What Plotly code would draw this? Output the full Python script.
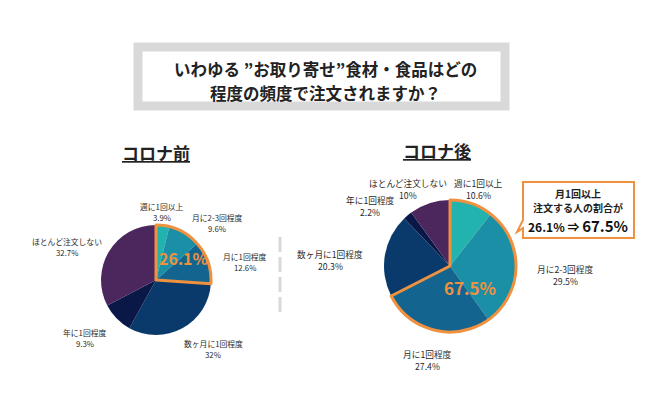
import plotly.graph_objects as go

# ---- data ----
categories = ["週に1回以上", "月に2-3回程度", "月に1回程度", "数ヶ月に1回程度", "年に1回程度", "ほとんど注文しない"]
before_values = [3.9, 9.6, 12.6, 32, 9.3, 32.7]
after_values = [10.6, 29.5, 27.4, 20.3, 2.2, 10]
before_label_text = ["3.9%", "9.6%", "12.6%", "32%", "9.3%", "32.7%"]
after_label_text = ["10.6%", "29.5%", "27.4%", "20.3%", "2.2%", "10%"]
monthly_before = "26.1%"
monthly_after = "67.5%"
n_monthly = 3  # first three categories = at least once a month

colors = ["#22B3AE", "#1A8FA6", "#136590", "#0A3A6B", "#0A1848", "#4B275E"]
ORANGE = "#F0913F"
FONT = "Noto Sans CJK JP"
W, H = 650, 412

fig = go.Figure()


def add_pie(vals, cx, cy, r):
    dom = dict(x=[(cx - r) / W, (cx + r) / W], y=[1 - (cy + r) / H, 1 - (cy - r) / H])
    fig.add_trace(go.Pie(values=vals, labels=categories, sort=False, direction="clockwise",
                         rotation=0, marker=dict(colors=colors, line=dict(width=0)),
                         textinfo="none", hoverinfo="skip", domain=dom, showlegend=False))
    grp = sum(vals[:n_monthly])
    fig.add_trace(go.Pie(values=[grp, sum(vals) - grp], labels=["a", "b"], sort=False,
                         direction="clockwise", rotation=0,
                         marker=dict(colors=["rgba(0,0,0,0)", "rgba(0,0,0,0)"],
                                     line=dict(color=[ORANGE, "rgba(0,0,0,0)"], width=[3, 0])),
                         textinfo="none", hoverinfo="skip", domain=dom, showlegend=False))


add_pie(before_values, 156, 280, 55)
add_pie(after_values, 450, 266, 66)

annotations = []


def txt(x, y, s, size, color="#333333", bold=False):
    annotations.append(dict(x=x, y=y, xref="x", yref="y", text=(f"<b>{s}</b>" if bold else s),
                            showarrow=False, xanchor="center", yanchor="middle",
                            font=dict(family=FONT, size=size, color=color)))


# title
txt(325, 69, "いわゆる ”お取り寄せ”食材・食品はどの", 16.5, "#222222", True)
txt(325, 93, "程度の頻度で注文されますか？", 16.5, "#222222", True)
# section headers
txt(156, 152, "<u>コロナ前</u>", 17, "#222222", True)
txt(437, 150, "<u>コロナ後</u>", 17, "#222222", True)

# left labels (name line, value line)
left_pos = [(162, 206), (217, 217), (245, 256), (213, 343), (85, 332), (67, 241)]
for (x, y), c, v in zip(left_pos, categories, before_label_text):
    txt(x, y, c, 7.8, "#2a2a2a")
    txt(x, y + 11, v, 7.8, "#2a2a2a")
# right labels
right_pos = [(478, 183), (565, 269), (427, 354), (330, 254), (370, 200), (408, 183)]
for (x, y), c, v in zip(right_pos, categories, after_label_text):
    txt(x, y, c, 8.7, "#2a2a2a")
    txt(x, y + 12, v, 8.7, "#2a2a2a")

# big percentages
txt(183, 258, monthly_before, 16, ORANGE, True)
txt(470, 287, monthly_after, 17, ORANGE, True)

# callout text
txt(578, 193, "月1回以上", 10, "#222222", True)
txt(578, 207, "注文する人の割合が", 10, "#222222", True)
annotations.append(dict(x=578, y=225, xref="x", yref="y", showarrow=False,
                        text=f"<b><span style='font-size:12px'>{monthly_before}</span> ⇒ "
                             f"<span style='font-size:15px'>{monthly_after}</span></b>",
                        font=dict(family=FONT, size=12, color="#111111")))

shapes = [
    dict(type="rect", xref="x", yref="y", x0=138, x1=505, y0=47, y1=106,
         line=dict(color="#D9D9D9", width=9), fillcolor="white", layer="below"),
    dict(type="line", xref="x", yref="y", x0=280, x1=280, y0=237, y1=315,
         line=dict(color="#D9D9D9", width=3, dash="15px,5px")),
    dict(type="path", xref="x", yref="y",
         path="M 523 182 L 634 182 L 634 238 L 523 238 L 523 228 L 517 232 L 523 220 Z",
         line=dict(color=ORANGE, width=2), fillcolor="white"),
]

fig.update_layout(
    width=W, height=H, margin=dict(l=0, r=0, t=0, b=0),
    paper_bgcolor="white", plot_bgcolor="white",
    xaxis=dict(range=[0, W], visible=False, fixedrange=True),
    yaxis=dict(range=[H, 0], visible=False, fixedrange=True),
    annotations=annotations, shapes=shapes, showlegend=False,
    font=dict(family=FONT),
)

fig.write_html("out.html")
